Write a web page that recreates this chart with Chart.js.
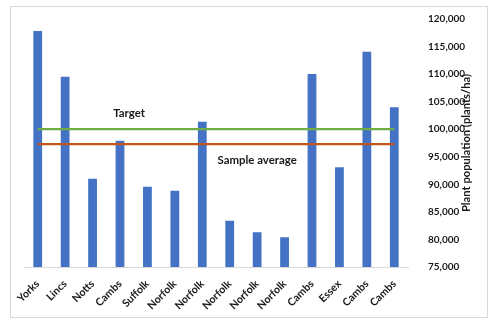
<!DOCTYPE html>
<html>
<head>
<meta charset="utf-8">
<script src="https://cdn.jsdelivr.net/npm/chart.js@4.4.1/dist/chart.umd.min.js"></script>
<style>
html,body{margin:0;padding:0;background:#fff;}
#wrap{width:500px;height:324px;position:relative;}
</style>
</head>
<body>
<div id="wrap"><canvas id="c" width="500" height="324"></canvas></div>
<script>
const categories = ["Yorks","Lincs","Notts","Cambs","Suffolk","Norfolk","Norfolk","Norfolk","Norfolk","Norfolk","Cambs","Essex","Cambs","Cambs"];
const plantPopulation = [117800,109500,91000,97900,89570,88840,101370,83400,81300,80390,110020,93090,114070,103980];
const target = [100000,100000,100000,100000,100000,100000,100000,100000,100000,100000,100000,100000,100000,100000];
const sampleAverage = [97300,97300,97300,97300,97300,97300,97300,97300,97300,97300,97300,97300,97300,97300];
const yTicks = [75000,80000,85000,90000,95000,100000,105000,110000,115000,120000];
const yTitle = "Plant population (plants/ha)";
const annotations = [
  {text:"Target", index:3.33, value:102900},
  {text:"Sample average", index:8.0, value:94400}
];

const FONT = "Lato, 'Open Sans', sans-serif";
const TXT = "#1a1a1a";

// pick font sizes so text widths match the reference
const mctx = document.createElement('canvas').getContext('2d');
function fitSize(text, width){
  mctx.font = "bold 20px " + FONT;
  return Math.round(20 * width / mctx.measureText(text).width * 10) / 10;
}
const tickSize = fitSize("120,000", 37);
const annSize = fitSize("Sample average", 79);
const titleSize = fitSize(yTitle, 138);
const catSize = fitSize("Norfolk", 36);

const frame = {
  id:'frame',
  beforeDraw(chart){
    const ctx = chart.ctx;
    ctx.save();
    ctx.fillStyle = '#fff';
    ctx.fillRect(0,0,chart.width,chart.height);
    ctx.strokeStyle = '#D9D9D9';
    ctx.lineWidth = 1;
    ctx.strokeRect(10.5,6.5,477,311);
    ctx.restore();
  },
  afterDraw(chart){
    const ctx = chart.ctx;
    const xs = chart.scales.x, ys = chart.scales.y;
    ctx.save();
    ctx.fillStyle = TXT;
    // category labels, rotated 45 degrees
    ctx.font = "bold " + catSize + "px " + FONT;
    ctx.textAlign = 'right';
    ctx.textBaseline = 'middle';
    categories.forEach((c, i) => {
      ctx.save();
      ctx.translate(xs.getPixelForValue(i), xs.top + 15);
      ctx.rotate(-Math.PI/4);
      ctx.fillText(c, 0, 0);
      ctx.restore();
    });
    // annotations
    ctx.font = "bold " + annSize + "px " + FONT;
    ctx.textAlign = 'center';
    annotations.forEach(a => {
      const i0 = Math.floor(a.index);
      const x = xs.getPixelForValue(i0) + (a.index - i0) * (xs.getPixelForValue(1) - xs.getPixelForValue(0));
      ctx.fillText(a.text, x, ys.getPixelForValue(a.value));
    });
    // axis title, reading bottom to top
    ctx.font = "bold " + titleSize + "px " + FONT;
    ctx.translate(466, (ys.top + ys.bottom) / 2);
    ctx.rotate(-Math.PI/2);
    ctx.fillText(yTitle, 0, 0);
    ctx.restore();
  }
};

new Chart(document.getElementById('c'), {
  data: {
    labels: categories,
    datasets: [
      {type:'line', label:'Target', data: target, borderColor:'#70AD47', borderWidth:2.25, pointRadius:0, order:0},
      {type:'line', label:'Sample average', data: sampleAverage, borderColor:'#C0561D', borderWidth:2.25, pointRadius:0, order:0},
      {type:'bar', label:'Plant population', data: plantPopulation, backgroundColor:'#4472C4', barPercentage:0.32, categoryPercentage:1, order:1}
    ]
  },
  options: {
    responsive:false,
    animation:false,
    layout:{padding:{left:24, right:12, top:19, bottom:0}},
    plugins:{legend:{display:false}, tooltip:{enabled:false}},
    scales:{
      x:{
        grid:{display:false},
        border:{display:true, color:'#D9D9D9', width:1},
        ticks:{display:false},
        afterFit(s){ s.height = 57; }
      },
      y:{
        position:'right',
        min:75000, max:120000,
        grid:{display:false},
        border:{display:false},
        afterBuildTicks(s){ s.ticks = yTicks.map(v => ({value:v})); },
        ticks:{color:TXT, padding:12, font:{family:FONT, size:tickSize, weight:'bold'}, callback:v => v.toLocaleString('en-US')},
        afterFit(s){ s.width = 80; }
      }
    }
  },
  plugins:[frame]
});
</script>
</body>
</html>
